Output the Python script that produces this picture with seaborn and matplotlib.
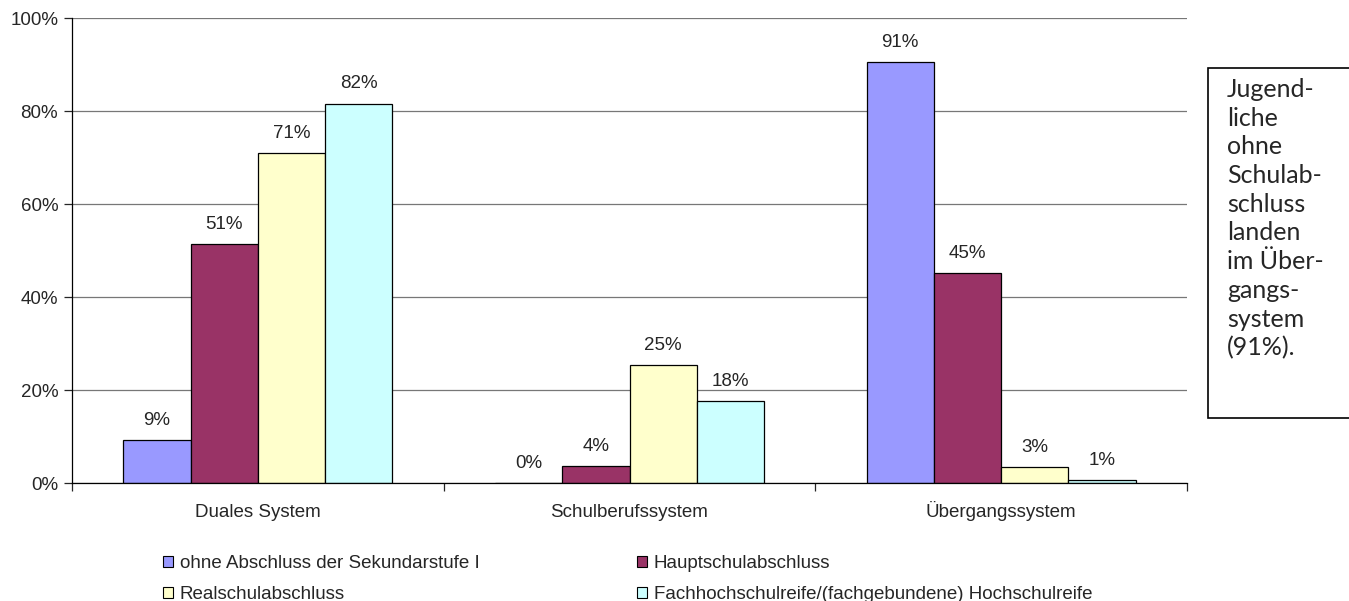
import pandas as pd
import matplotlib.pyplot as plt
import matplotlib.patches as mpatches
import seaborn as sns

# values
systems = ["Duales System", "Schulberufssystem", "Übergangssystem"]
degrees = [
    "ohne Abschluss der Sekundarstufe I",
    "Hauptschulabschluss",
    "Realschulabschluss",
    "Fachhochschulreife/(fachgebundene) Hochschulreife",
]
ohne = [0.093, 0.0, 0.906]
haupt = [0.514, 0.036, 0.451]
real = [0.709, 0.254, 0.034]
fach = [0.816, 0.177, 0.006]
colors = ["#9999FF", "#993366", "#FFFFCC", "#CCFFFF"]

note = "Jugend-\nliche\nohne\nSchulab-\nschluss\nlanden\nim Über-\ngangs-\nsystem\n(91%)."

rows = []
for deg, vals in zip(degrees, [ohne, haupt, real, fach]):
    for sys_name, v in zip(systems, vals):
        rows.append({"System": sys_name, "Abschluss": deg, "Anteil": v})
df = pd.DataFrame(rows)

sns.set_style("white")
plt.rcParams["font.family"] = ["Liberation Sans", "DejaVu Sans"]
fs = 13.5

fig = plt.figure(figsize=(13.49, 6.01), dpi=100)
ax = fig.add_axes([0.0534, 0.1963, 0.8265, 0.7737])

sns.barplot(data=df, x="System", y="Anteil", hue="Abschluss", order=systems,
            hue_order=degrees, palette=colors, width=0.724, edgecolor="black",
            linewidth=0.9, saturation=1, ax=ax, legend=False)

for cont in ax.containers:
    ax.bar_label(cont, labels=[f"{v * 100:.0f}%" for v in cont.datavalues],
                 padding=8, fontsize=fs)

ax.set_ylim(0, 1)
ax.set_xlim(-0.5, 2.5)
ax.set_yticks([0, 0.2, 0.4, 0.6, 0.8, 1.0])
ax.set_yticklabels(["0%", "20%", "40%", "60%", "80%", "100%"], fontsize=fs)
ax.yaxis.grid(True, color="#777777", linewidth=0.9)
ax.set_axisbelow(True)
ax.tick_params(axis="y", direction="out", length=6, width=0.9, pad=4, left=True)
ax.set_xticks([0, 1, 2])
ax.set_xticklabels(systems, fontsize=fs)
for lab in ax.get_xticklabels():
    lab.set_va("baseline")
ax.set_xticks([-0.5, 0.5, 1.5, 2.5], minor=True)
ax.tick_params(axis="x", which="major", length=0, pad=24.5)
ax.tick_params(axis="x", which="minor", direction="out", length=6, width=0.9, bottom=True)
ax.set_xlabel("")
ax.set_ylabel("")
for s in ["top", "right"]:
    ax.spines[s].set_visible(False)
for s in ["left", "bottom"]:
    ax.spines[s].set_color("black")
    ax.spines[s].set_linewidth(0.9)

handles = [mpatches.Patch(facecolor=c, edgecolor="black", linewidth=0.8) for c in colors]
leg_kw = dict(loc="upper left", frameon=False, fontsize=fs, handlelength=0.55,
              handleheight=0.55, handletextpad=0.35, labelspacing=0.75,
              borderaxespad=0, borderpad=0)
fig.legend([handles[0], handles[2]], [degrees[0], degrees[2]],
           bbox_to_anchor=(163 / 1349, 1 - 555 / 601), **leg_kw)
fig.legend([handles[1], handles[3]], [degrees[1], degrees[3]],
           bbox_to_anchor=(637 / 1349, 1 - 555 / 601), **leg_kw)

box = mpatches.Rectangle((0.8955, 0.3045), 0.12, 0.5824, transform=fig.transFigure,
                         facecolor="white", edgecolor="black", linewidth=1.2,
                         clip_on=False)
fig.patches.append(box)
fig.text(1227 / 1349, 1 - 78 / 601, note, ha="left", va="top", fontsize=18,
         family=["Lato", "DejaVu Sans"], linespacing=1.3)

fig.savefig("out.png", dpi=100)
